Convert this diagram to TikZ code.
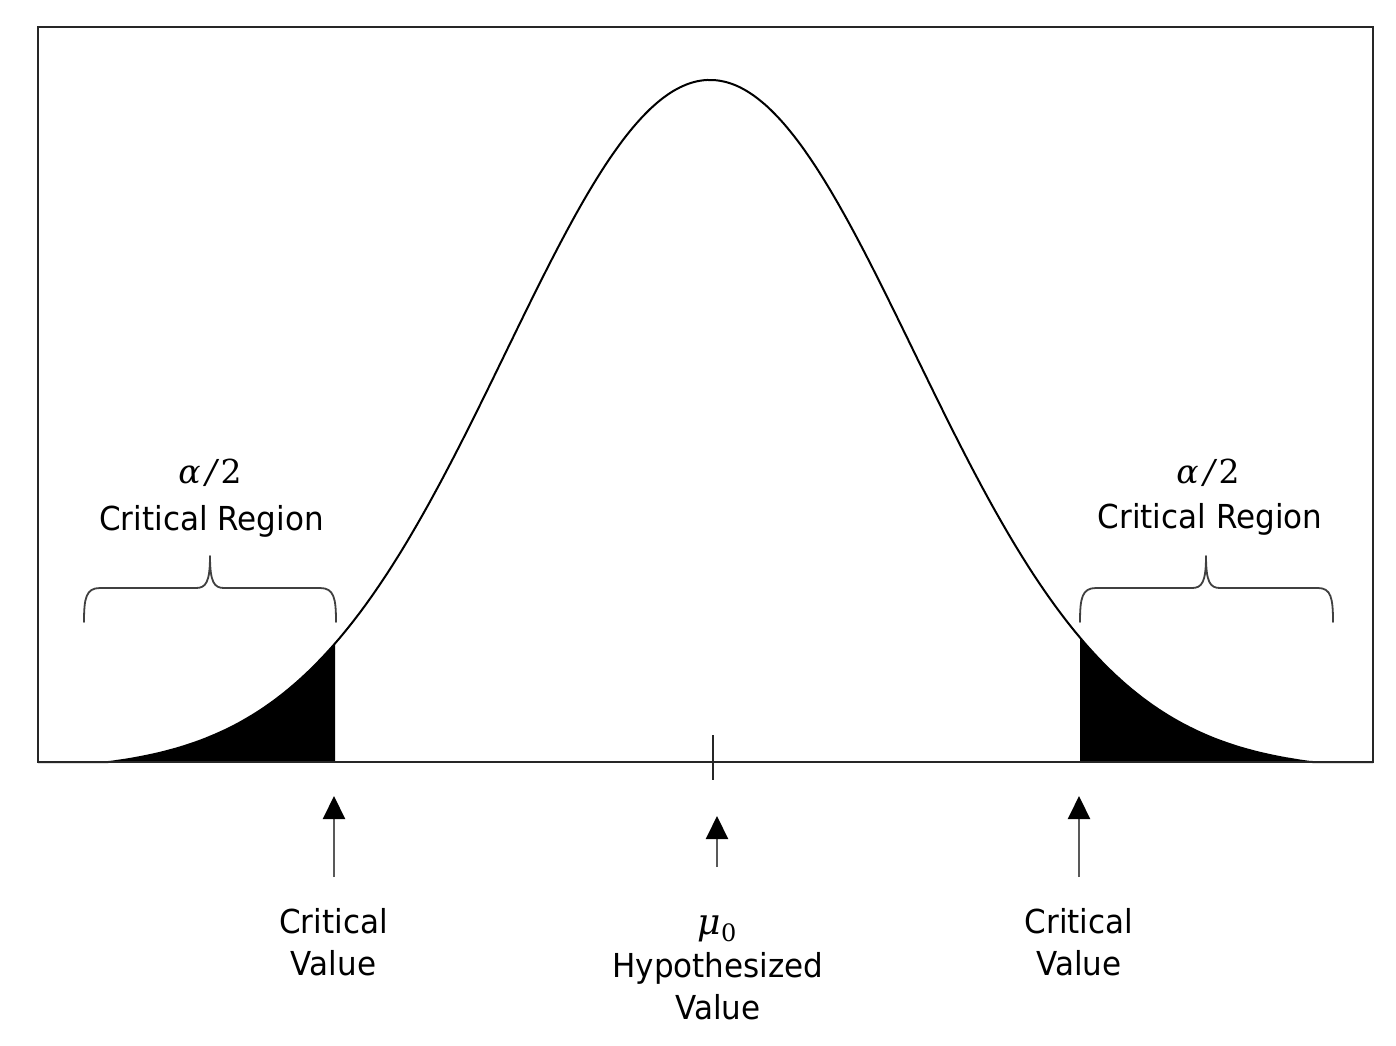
\RequirePackage{fix-cm}
\documentclass[tikz,border=0pt]{standalone}
\usepackage{fontspec}
\setmainfont{DejaVu Sans}[FakeStretch=0.94]
\newfontfamily\mfont{DejaVu Serif}
\usetikzlibrary{arrows.meta}
\begin{document}
\begin{tikzpicture}[x=1pt,y=-1pt,
  lbl/.style={anchor=base, inner sep=0pt, font=\fontsize{33}{40}\selectfont},
  mlbl/.style={anchor=base, inner sep=0pt, font=\mfont\fontsize{33}{38}\selectfont},
  frame/.style={line width=2.6pt, black!85},
  curvestyle/.style={line width=2pt, black},
  bracestyle/.style={line width=1.8pt, black!75, line join=round, line cap=round},
  uparrow/.style={line width=2.2pt, black!65, -{Triangle[width=22pt,length=23pt,color=black]}},
  tickstyle/.style={line width=2.4pt, black!85},
  declare function={dens(\t)=762-682*max(0,(exp(-0.5*((\t-710)/204)*((\t-710)/204))-0.013)/0.987);},
]
\useasboundingbox (0,0) rectangle (1396,1045);
\fill[white] (0,0) rectangle (1396,1045);

% shaded tails
\fill[black] plot[domain=38:335, samples=150] (\x, {dens(\x)}) -- (335,762) -- cycle;
\fill[black] (1080,762) -- plot[domain=1080:1373, samples=150] (\x, {dens(\x)}) -- cycle;

% curve
\draw[curvestyle] plot[domain=38:1373, samples=400] (\x, {dens(\x)});

% frame
\draw[frame] (38,27) rectangle (1373,762);

% tick
\coordinate (tickTop) at (713,735);
\coordinate (tickBot) at (713,780);
\draw[tickstyle] (tickTop) -- (tickBot);

% braces
\draw[bracestyle] (84,622) .. controls (84,598) and (86,588) .. (100,588) -- (196,588)
  .. controls (206,588) and (210,582) .. (210,556)
  .. controls (210,582) and (214,588) .. (224,588) -- (320,588)
  .. controls (334,588) and (336,598) .. (336,622);
\draw[bracestyle] (1080,622) .. controls (1080,598) and (1082,588) .. (1096,588) -- (1192,588)
  .. controls (1202,588) and (1206,582) .. (1206,556)
  .. controls (1206,582) and (1210,588) .. (1220,588) -- (1318,588)
  .. controls (1331,588) and (1333,598) .. (1333,622);

% region labels
\node[mlbl] (alphaL) at (210,483) {\itshape α\hspace{5pt}/\hspace{4pt}\upshape 2};
\node[lbl] (regionL) at (211.5,530) {Critical Region};
\node[mlbl] (alphaR) at (1208,483) {\itshape α\hspace{5pt}/\hspace{4pt}\upshape 2};
\node[lbl] (regionR) at (1210,528) {Critical Region};

% arrows
\coordinate (aL1) at (334,877);
\coordinate (aL2) at (334,796);
\coordinate (aC1) at (717,867);
\coordinate (aC2) at (717,816);
\coordinate (aR1) at (1079,877);
\coordinate (aR2) at (1079,796);
\draw[uparrow] (aL1) -- (aL2);
\draw[uparrow] (aC1) -- (aC2);
\draw[uparrow] (aR1) -- (aR2);

% bottom labels
\node[lbl] (critL) at (333.5,933) {Critical};
\node[lbl] (valL) at (333.5,975) {Value};
\node[mlbl, font=\mfont\fontsize{36}{40}\selectfont] (mu) at (717,934) {\itshape μ\upshape\raisebox{-7pt}{\fontsize{24}{24}\selectfont 0}};
\node[lbl] (hyp) at (718,977) {Hypothesized};
\node[lbl] (valC) at (718,1019) {Value};
\node[lbl] (critR) at (1079,933) {Critical};
\node[lbl] (valR) at (1079,975) {Value};
\end{tikzpicture}
\end{document}
